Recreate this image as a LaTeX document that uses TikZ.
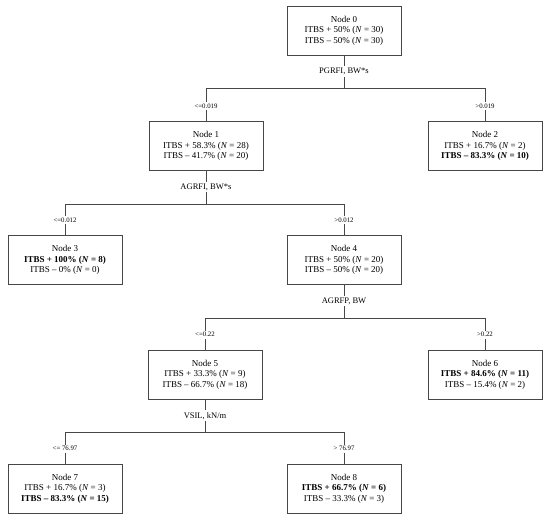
\documentclass[tikz,border=0pt]{standalone}
\usepackage{fontspec}
\setmainfont{Liberation Serif}
\usetikzlibrary{positioning}
\definecolor{bordo}{HTML}{474747}
\tikzset{
	% box of a tree node
	nodo/.style={draw=bordo, line width=0.9pt, rectangle, fill=white, minimum width=114pt, minimum height=49pt,
	             align=center, font=\fontsize{9}{10.6}\selectfont, inner sep=2pt},
	% splitting variable
	split/.style={inner sep=1.5pt, font=\fontsize{8.5}{10}\selectfont},
	% threshold of a branch
	soglia/.style={inner sep=1.5pt, font=\fontsize{6.8}{8}\selectfont},
	% connector
	ramo/.style={draw=bordo, line width=0.7pt},
}
\newcommand{\nN}[1]{(\textit{N}~=~#1)}
\newcommand{\bN}[1]{(\textit{\textbf{N}}~=~#1)}

\begin{document}
\begin{tikzpicture}[x=1pt, y=-1pt, node distance=11pt]
    \useasboundingbox (0,0) rectangle (550,521);
    % nodes
    \node[nodo] (n0) at (344,30.5) {Node 0\\ ITBS + 50\% \nN{30}\\ ITBS – 50\% \nN{30}};
    \node[nodo] (n1) at (206,146) {Node 1\\ ITBS + 58.3\% \nN{28}\\ ITBS – 41.7\% \nN{20}};
    \node[nodo] (n2) at (485,146) {Node 2\\ ITBS + 16.7\% \nN{2}\\ \textbf{ITBS – 83.3\% \bN{10}}};
    \node[nodo] (n3) at (65,260) {Node 3\\ \textbf{ITBS + 100\% \bN{8}}\\ ITBS – 0\% \nN{0}};
    \node[nodo] (n4) at (344,260) {Node 4\\ ITBS + 50\% \nN{20}\\ ITBS – 50\% \nN{20}};
    \node[nodo] (n5) at (205,374.5) {Node 5\\ ITBS + 33.3\% \nN{9}\\ ITBS – 66.7\% \nN{18}};
    \node[nodo] (n6) at (485,374.5) {Node 6\\ \textbf{ITBS + 84.6\% \bN{11}}\\ ITBS – 15.4\% \nN{2}};
    \node[nodo] (n7) at (65,488.5) {Node 7\\ ITBS + 16.7\% \nN{3}\\ \textbf{ITBS – 83.3\% \bN{15}}};
    \node[nodo] (n8) at (344,488.5) {Node 8\\ \textbf{ITBS + 66.7\% \bN{6}}\\ ITBS – 33.3\% \nN{3}};
    % splits
    \node[split, below=of n0] (s0) {PGRFI, BW*s};
    \node[split, below=of n1] (s1) {AGRFI, BW*s};
    \node[split, below=of n4] (s4) {AGRFP, BW};
    \node[split, below=of n5] (s5) {VSIL, kN/m};
    \coordinate[below=33pt of n0] (j0);
    \coordinate[below=33pt of n1] (j1);
    \coordinate[below=33pt of n4] (j4);
    \coordinate[below=33pt of n5] (j5);
    % thresholds
    \node[soglia, above=11pt of n1] (t1) {<=0.019};
    \node[soglia, above=11pt of n2] (t2) {>0.019};
    \node[soglia, above=11pt of n3] (t3) {<=0.012};
    \node[soglia, above=11pt of n4] (t4) {>0.012};
    \node[soglia, above=11pt of n5] (t5) {<=0.22};
    \node[soglia, above=11pt of n6] (t6) {>0.22};
    \node[soglia, above=11pt of n7] (t7) {<= 76.97};
    \node[soglia, above=11pt of n8] (t8) {> 76.97};
    % branches
    \foreach \p/\a/\b in {0/1/2, 1/3/4, 4/5/6, 5/7/8} {
        \draw[ramo] (n\p) -- (s\p);
        \draw[ramo] (s\p) -- (j\p);
        \draw[ramo] (t\a.north) |- (j\p) -| (t\b.north);
        \draw[ramo] (t\a) -- (n\a);
        \draw[ramo] (t\b) -- (n\b);
    }
\end{tikzpicture}
\end{document}
